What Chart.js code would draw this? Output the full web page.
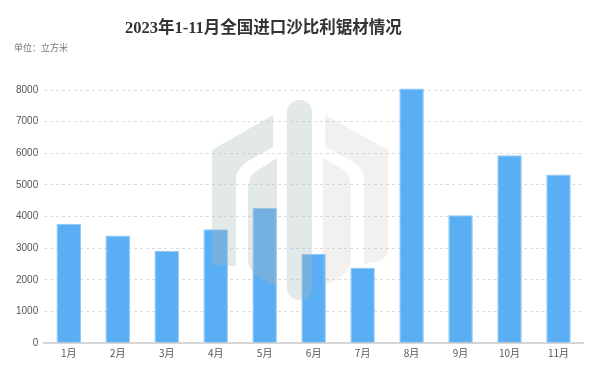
<!DOCTYPE html>
<html>
<head>
<meta charset="utf-8">
<script src="https://cdn.jsdelivr.net/npm/chart.js"></script>
<style>
  html, body { margin: 0; padding: 0; background: #fff; }
  #wrap { width: 600px; height: 381px; position: relative; }
  #title {
    position: absolute; left: 125px; top: 16px; white-space: nowrap;
    font-family: 'Liberation Serif', 'Noto Sans CJK SC'; font-weight: bold;
    font-size: 16.5px; color: #333; line-height: 24px;
  }
  #unit {
    position: absolute; left: 14px; top: 41px; white-space: nowrap;
    font-family: 'Noto Sans CJK SC'; font-size: 9px; color: #777; line-height: 14px;
  }
</style>
</head>
<body>
<div id="wrap">
  <canvas id="importChart"></canvas>
  <div id="title">2023年1-11月全国进口沙比利锯材情况</div>
  <div id="unit">单位：立方米</div>
</div>
<script>
const months = ['1月', '2月', '3月', '4月', '5月', '6月', '7月', '8月', '9月', '10月', '11月'];
const volumes = [3770, 3400, 2920, 3600, 4280, 2820, 2380, 8050, 4040, 5940, 5330];
const yTicks = [0, 1000, 2000, 3000, 4000, 5000, 6000, 7000, 8000];

// faint logo watermark drawn over the bars
const watermark = {
    id: 'watermark',
    afterDatasetsDraw(chart) {
        const c = chart.ctx;
        c.save();
        c.fillStyle = 'rgba(170, 185, 185, 0.33)';
        // centre pill
        c.beginPath();
        c.roundRect(287, 100, 25, 200, 12);
        c.fill();
        // left outer band
        c.beginPath();
        c.moveTo(273, 115);
        c.lineTo(212, 150);
        c.lineTo(212, 262);
        c.quadraticCurveTo(212, 266, 236, 266);
        c.lineTo(236, 180);
        c.quadraticCurveTo(236, 168, 250, 160);
        c.lineTo(273, 147);
        c.closePath();
        c.fill();
        // left inner band
        c.beginPath();
        c.moveTo(277, 158);
        c.lineTo(255, 172);
        c.quadraticCurveTo(248, 177, 248, 190);
        c.lineTo(248, 262);
        c.quadraticCurveTo(250, 276, 277, 286);
        c.closePath();
        c.fill();
        c.fillStyle = 'rgba(200, 192, 185, 0.22)';
        // right outer band
        c.beginPath();
        c.moveTo(325, 115);
        c.lineTo(388, 150);
        c.lineTo(388, 250);
        c.quadraticCurveTo(388, 262, 364, 264);
        c.lineTo(364, 180);
        c.quadraticCurveTo(364, 168, 350, 160);
        c.lineTo(325, 147);
        c.closePath();
        c.fill();
        // right inner band
        c.beginPath();
        c.moveTo(323, 158);
        c.lineTo(344, 170);
        c.quadraticCurveTo(351, 176, 351, 190);
        c.lineTo(351, 262);
        c.quadraticCurveTo(349, 276, 323, 286);
        c.closePath();
        c.fill();
        c.restore();
    }
};

const ctx = document.getElementById('importChart').getContext('2d');
new Chart(ctx, {
    type: 'bar',
    data: {
        labels: months,
        datasets: [{
            data: volumes,
            backgroundColor: '#5aaef3',
            borderColor: '#8cc6f5',
            borderWidth: 1,
            categoryPercentage: 1,
            barPercentage: 0.5,
            clip: false
        }]
    },
    options: {
        responsive: true,
        maintainAspectRatio: false,
        animation: false,
        layout: { padding: { left: 10, right: 17, top: 90, bottom: 18 } },
        plugins: {
            legend: { display: false },
            tooltip: { enabled: false },
            title: { display: false }
        },
        scales: {
            x: {
                grid: { display: false, drawTicks: false },
                border: { display: true, color: '#d6d6d6', width: 2 },
                ticks: { color: '#555', font: { family: "'Noto Sans CJK SC'", size: 10 }, padding: 4 }
            },
            y: {
                min: 0,
                max: 8000,
                afterBuildTicks(axis) { axis.ticks = yTicks.map(v => ({ value: v })); },
                grid: { color: '#dcdcdc', drawTicks: false },
                border: { display: false, dash: [3, 3] },
                ticks: {
                    color: '#555',
                    font: { family: "'Liberation Sans'", size: 10 },
                    padding: 6,
                    callback: v => String(v)
                }
            }
        }
    },
    plugins: [watermark]
});
</script>
</body>
</html>
